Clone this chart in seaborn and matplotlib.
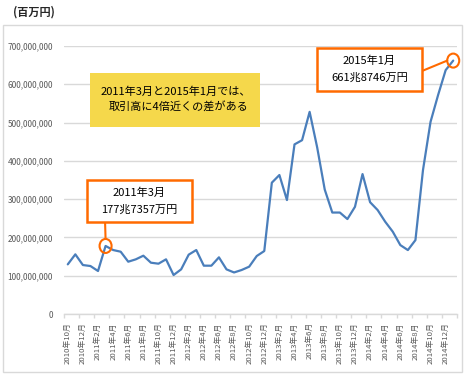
import matplotlib
matplotlib.use("Agg")
import matplotlib.pyplot as plt
import seaborn as sns
import numpy as np
import pandas as pd
from matplotlib.patches import Rectangle, Ellipse
from matplotlib.ticker import FuncFormatter, FixedLocator

# ---- data ----
months = []
for y in range(2010, 2016):
    for m in range(1, 13):
        if (y == 2010 and m < 10) or (y == 2015 and m > 1):
            continue
        months.append(f"{y}年{m}月")

values_million = [129.7, 155.8, 127.9, 125.3, 112.3, 177.7357, 167.1, 162.7, 136.6, 142.8,
                  152.3, 134.0, 131.4, 142.8, 101.8, 116.6, 155.0, 167.1, 126.2, 126.2,
                  148.0, 116.6, 108.5, 114.9, 123.6, 151.4, 164.5, 343.0, 363.0, 297.6,
                  443.0, 454.0, 528.0, 435.0, 325.0, 265.0, 265.0, 248.0, 280.0, 365.5,
                  292.0, 271.5, 241.0, 215.0, 180.0, 167.0, 193.0, 376.0, 502.0, 572.0,
                  637.0, 661.8746]
values = [v * 1e6 for v in values_million]
yticks = [0, 100e6, 200e6, 300e6, 400e6, 500e6, 600e6, 700e6]
unit_label = "(百万円)"
note_text = ["2011年3月と2015年1月では、", "取引高に4倍近くの差がある"]
call1 = ["2011年3月", "177兆7357万円"]
call2 = ["2015年1月", "661兆8746万円"]
idx1, idx2 = 5, 51

df = pd.DataFrame({"i": np.arange(len(values)), "v": values, "month": months})

sns.set_theme(style="white")
plt.rcParams['font.family'] = ['Noto Sans CJK JP', 'DejaVu Sans']

W, H = 467, 376
fig = plt.figure(figsize=(W / 100, H / 100), dpi=100)
L, R, T, B = 64, 457, 46, 314
ax = fig.add_axes([L / W, 1 - B / H, (R - L) / W, (B - T) / H])

LINE = "#4A7EBB"
ORANGE = "#FF6A00"
GRID = "#D9D9D9"
TXT = "#595959"

sns.lineplot(data=df, x="i", y="v", ax=ax, color=LINE, linewidth=1.6, zorder=3)

ax.set_xlim(-0.5, len(values) - 0.5)
ax.set_ylim(0, 700e6)
ax.set_yticks(yticks)
ax.yaxis.set_major_formatter(FuncFormatter(lambda v, p: f"{int(v):,}"))
ax.grid(axis="y", color=GRID, linewidth=1)
ax.grid(axis="x", visible=False)
for s in ["left", "right", "top"]:
    ax.spines[s].set_visible(False)
ax.spines["bottom"].set_color(GRID)
ax.spines["bottom"].set_linewidth(1)

lab_pos = list(range(0, len(values), 2))
ax.set_xticks(lab_pos)
ax.set_xticklabels([months[i] for i in lab_pos], rotation=90, fontsize=5.6, color=TXT)
ax.xaxis.set_minor_locator(FixedLocator(np.arange(-0.5, len(values), 2)))
ax.tick_params(axis="x", which="major", length=0, pad=6)
ax.tick_params(axis="x", which="minor", length=3, color=GRID, width=1, bottom=True)
ax.tick_params(axis="y", length=0, pad=8, labelsize=6, labelcolor=TXT)
ax.set_xlabel("")
ax.set_ylabel("")


def fx(px):
    return px / W


def fy(py):
    return 1 - py / H


def box(x0, y0, x1, y1, face, edge, lw):
    r = Rectangle((fx(x0), fy(y1)), fx(x1) - fx(x0), fy(y0) - fy(y1), transform=fig.transFigure,
                  facecolor=face, edgecolor=edge, linewidth=lw, zorder=5, clip_on=False)
    fig.add_artist(r)


# chart border
box(3, 25, 462, 372, "none", GRID, 1)

fig.text(fx(13), fy(12), unit_label, fontsize=8, fontweight="bold", ha="left", va="center", color="#262626")

# yellow note
box(90, 73, 260, 127, "#F5D84B", "none", 0)
fig.text(fx(176), fy(92), note_text[0], fontsize=8, ha="center", va="center", color="black", zorder=6)
fig.text(fx(179), fy(107), note_text[1], fontsize=8, ha="center", va="center", color="black", zorder=6)

# callout 1
box(87, 180, 192, 222, "white", ORANGE, 1.8)
fig.text(fx(139.5), fy(193), call1[0], fontsize=8, ha="center", va="center", color="black", zorder=6)
fig.text(fx(139.5), fy(210), call1[1], fontsize=8, ha="center", va="center", color="black", zorder=6)

# callout 2
box(317, 48, 422, 91, "white", ORANGE, 1.8)
fig.text(fx(369.5), fy(61), call2[0], fontsize=8, ha="center", va="center", color="black", zorder=6)
fig.text(fx(369.5), fy(78), call2[1], fontsize=8, ha="center", va="center", color="black", zorder=6)

# circles at the data points
px_per_x = (R - L) / len(values)
px_per_y = (B - T) / 700e6
ew, eh = 12 / px_per_x, 14 / px_per_y
for k in (idx1, idx2):
    ax.add_patch(Ellipse((k, values[k]), ew, eh, facecolor="none", edgecolor=ORANGE,
                         linewidth=1.5, zorder=6, clip_on=False))

# connectors (figure pixel coords)
x1c = L + (idx1 + 0.5) * px_per_x
y1c = B - values[idx1] * px_per_y
fig.add_artist(plt.Line2D([fx(x1c - 0.5), fx(x1c)], [fy(222), fy(y1c - 7)], color=ORANGE,
                          linewidth=1.5, transform=fig.transFigure, zorder=4))
x2c = L + (idx2 + 0.5) * px_per_x
y2c = B - values[idx2] * px_per_y
fig.add_artist(plt.Line2D([fx(422), fx(x2c - 6)], [fy(71), fy(y2c)], color=ORANGE,
                          linewidth=1.5, transform=fig.transFigure, zorder=4))

fig.savefig("out.png", dpi=100, facecolor="white")
